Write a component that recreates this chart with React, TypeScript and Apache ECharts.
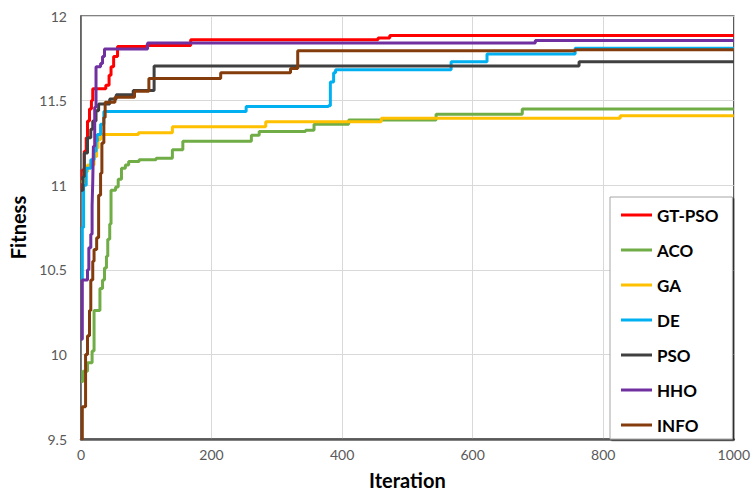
import React, { useEffect, useRef } from "react";
import * as echarts from "echarts";

const seriesNames = ["GT-PSO", "ACO", "GA", "DE", "PSO", "HHO", "INFO"];
const seriesColors = ["#FF0000", "#70AD47", "#FFC000", "#00B0F0", "#404040", "#7030A0", "#843C0C"];

const gtpso: number[][] = [
  [0, 10.97], [2, 11.09], [5, 11.2], [8, 11.28], [10, 11.38], [13, 11.45], [16, 11.5], [18, 11.57],
  [38, 11.59], [43, 11.65], [46, 11.7], [50, 11.76], [56, 11.82], [100, 11.825], [168, 11.86],
  [455, 11.87], [473, 11.885], [1000, 11.885],
];
const aco: number[][] = [
  [0, 9.84], [3, 9.9], [10, 9.95], [17, 10.02], [20, 10.26], [29, 10.39], [33, 10.44], [36, 10.51],
  [39, 10.58], [41, 10.68], [44, 10.77], [46, 10.97], [53, 10.99], [57, 11.035], [62, 11.1],
  [68, 11.12], [73, 11.14], [89, 11.15], [115, 11.16], [140, 11.21], [156, 11.26], [261, 11.295],
  [273, 11.318], [344, 11.325], [357, 11.36], [410, 11.385], [544, 11.42], [676, 11.45], [1000, 11.45],
];
const ga: number[][] = [
  [0, 11.02], [5, 11.08], [10, 11.12], [20, 11.17], [24, 11.22], [26, 11.27], [30, 11.3], [88, 11.31],
  [140, 11.345], [283, 11.375], [460, 11.395], [826, 11.41], [1000, 11.41],
];
const de: number[][] = [
  [0, 10.44], [2, 10.75], [4, 11.0], [8, 11.1], [15, 11.15], [20, 11.2], [23, 11.26], [25, 11.3],
  [30, 11.36], [35, 11.435], [253, 11.465], [379, 11.47], [382, 11.61], [387, 11.665], [390, 11.683],
  [567, 11.73], [622, 11.775], [757, 11.81], [1000, 11.81],
];
const pso: number[][] = [
  [0, 10.97], [3, 11.05], [5, 11.19], [10, 11.28], [15, 11.33], [18, 11.38], [23, 11.44], [27, 11.48],
  [44, 11.51], [54, 11.535], [80, 11.56], [112, 11.705], [763, 11.73], [1000, 11.73],
];
const hho: number[][] = [
  [0, 10.09], [2, 10.44], [10, 10.5], [12, 10.63], [15, 10.71], [17, 10.88], [18, 11.02], [19, 11.23],
  [21, 11.46], [23, 11.7], [30, 11.72], [33, 11.76], [36, 11.805], [102, 11.84], [696, 11.855], [1000, 11.855],
];
const info: number[][] = [
  [0, 9.5], [2, 9.69], [7, 10.0], [10, 10.11], [13, 10.26], [15, 10.44], [18, 10.55], [20, 10.62],
  [24, 10.69], [27, 10.94], [30, 11.07], [32, 11.25], [35, 11.4], [37, 11.49], [52, 11.52], [82, 11.555],
  [104, 11.63], [214, 11.665], [321, 11.69], [332, 11.795], [757, 11.8], [1000, 11.8],
];
const seriesData = [gtpso, aco, ga, de, pso, hho, info];

const xTicks = { min: 0, max: 1000, interval: 200 };
const yTicks = { min: 9.5, max: 12, interval: 0.5 };

export default function App() {
  const ref = useRef<HTMLDivElement>(null);
  useEffect(() => {
    if (!ref.current) return;
    const chart = echarts.init(ref.current, undefined, { renderer: "svg" });
    const font = "Lato, 'Open Sans', sans-serif";
    chart.setOption({
      animation: false,
      backgroundColor: "#ffffff",
      grid: {
        left: 81, right: 16, top: 16, bottom: 47,
        show: true, borderColor: "#595959", borderWidth: 1.5, backgroundColor: "transparent",
      },
      xAxis: {
        type: "value", min: xTicks.min, max: xTicks.max, interval: xTicks.interval,
        name: "Iteration", nameLocation: "middle", nameGap: 31,
        nameTextStyle: { fontFamily: font, fontWeight: "bold", fontSize: 20, color: "#000" },
        axisLine: { show: true, lineStyle: { color: "#595959", width: 2.5 } },
        axisTick: { show: false },
        axisLabel: { fontFamily: font, fontSize: 14, color: "#595959", margin: 8, formatter: (v: number) => String(v) },
        splitLine: { show: true, lineStyle: { color: "#d9d9d9", width: 1 } },
      },
      yAxis: {
        type: "value", min: yTicks.min, max: yTicks.max, interval: yTicks.interval,
        name: "Fitness", nameLocation: "middle", nameGap: 50,
        nameTextStyle: { fontFamily: font, fontWeight: "bold", fontSize: 20, color: "#000" },
        axisLine: { show: true, lineStyle: { color: "#595959", width: 1.5 } },
        axisTick: { show: false },
        axisLabel: { fontFamily: font, fontSize: 14, color: "#595959", margin: 14, formatter: (v: number) => String(v) },
        splitLine: { show: true, lineStyle: { color: "#d9d9d9", width: 1 } },
      },
      legend: {
        orient: "vertical",
        left: 610, top: 197,
        data: seriesNames,
        icon: "rect",
        itemWidth: 31, itemHeight: 3,
        itemGap: 15,
        padding: [8, 14, 4, 11],
        backgroundColor: "#ffffff",
        borderColor: "#a6a6a6", borderWidth: 1,
        shadowColor: "rgba(0,0,0,0.5)", shadowBlur: 0, shadowOffsetX: 1.5, shadowOffsetY: 1.5,
        textStyle: { fontFamily: font, fontWeight: "bold", fontSize: 17, color: "#000", lineHeight: 20 },
      },
      series: seriesNames.map((name, i) => ({
        name, type: "line", step: "end", data: seriesData[i], showSymbol: false, symbol: "none",
        color: seriesColors[i],
        lineStyle: { color: seriesColors[i], width: 3 },
        z: 2 + i,
      })),
    });
    return () => chart.dispose();
  }, []);
  return (
    <div
      ref={ref}
      style={{ position: "fixed", left: 0, top: 0, width: 753, height: 495, background: "#fff" }}
    />
  );
}
